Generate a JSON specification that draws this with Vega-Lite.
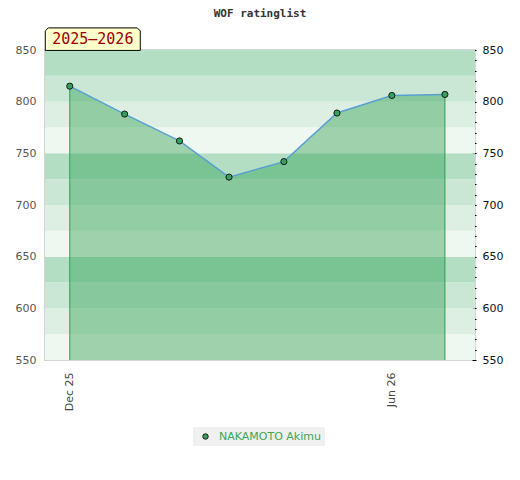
{
  "$schema": "https://vega.github.io/schema/vega-lite/v6.json",
  "autosize": "none",
  "width": 430,
  "height": 310,
  "padding": {"left": 45, "top": 50, "right": 45, "bottom": 120},
  "title": {
    "text": "WOF ratinglist",
    "font": "DejaVu Sans Mono",
    "fontSize": 11,
    "fontWeight": "bold",
    "color": "#333333",
    "anchor": "middle",
    "frame": "group",
    "offset": 7
  },
  "config": {
    "font": "DejaVu Sans",
    "view": {"stroke": "#d4d4d4", "strokeWidth": 2}
  },
  "datasets": {
    "ratings": [
      {"date": "2025-12-01", "rating": 815, "player": "NAKAMOTO Akimu"},
      {"date": "2026-01-01", "rating": 788, "player": "NAKAMOTO Akimu"},
      {"date": "2026-02-01", "rating": 762, "player": "NAKAMOTO Akimu"},
      {"date": "2026-03-01", "rating": 727, "player": "NAKAMOTO Akimu"},
      {"date": "2026-04-01", "rating": 742, "player": "NAKAMOTO Akimu"},
      {"date": "2026-05-01", "rating": 789, "player": "NAKAMOTO Akimu"},
      {"date": "2026-06-01", "rating": 806, "player": "NAKAMOTO Akimu"},
      {"date": "2026-07-01", "rating": 807, "player": "NAKAMOTO Akimu"}
    ],
    "bands": [
      {"lo": 550, "hi": 575, "shade": 0},
      {"lo": 575, "hi": 600, "shade": 1},
      {"lo": 600, "hi": 625, "shade": 2},
      {"lo": 625, "hi": 650, "shade": 3},
      {"lo": 650, "hi": 675, "shade": 0},
      {"lo": 675, "hi": 700, "shade": 1},
      {"lo": 700, "hi": 725, "shade": 2},
      {"lo": 725, "hi": 750, "shade": 3},
      {"lo": 750, "hi": 775, "shade": 0},
      {"lo": 775, "hi": 800, "shade": 1},
      {"lo": 800, "hi": 825, "shade": 2},
      {"lo": 825, "hi": 850, "shade": 3}
    ],
    "season": [{"label": "2025–2026"}]
  },
  "resolve": {"axis": {"y": "independent"}},
  "layer": [
    {
      "data": {"name": "bands"},
      "mark": {"type": "rect"},
      "encoding": {
        "y": {
          "field": "lo",
          "type": "quantitative",
          "scale": {"domain": [550, 850], "nice": false, "zero": false},
          "axis": {
            "orient": "left",
            "values": [550, 600, 650, 700, 750, 800, 850],
            "ticks": false,
            "domain": false,
            "grid": false,
            "title": null,
            "labelColor": "#555555",
            "labelFontSize": 11,
            "labelPadding": 9
          }
        },
        "y2": {"field": "hi"},
        "fill": {
          "field": "shade",
          "type": "ordinal",
          "scale": {"domain": [0, 1, 2, 3], "range": ["#eff7f1", "#dcefe2", "#c9e7d4", "#b3dec3"]},
          "legend": null
        }
      }
    },
    {
      "data": {"name": "ratings"},
      "mark": {"type": "area", "color": "#259b48", "opacity": 0.4},
      "encoding": {
        "x": {
          "field": "date",
          "type": "temporal",
          "scale": {
            "type": "utc",
            "domain": [
              {"year": 2025, "month": 11, "date": 17, "utc": true},
              {"year": 2026, "month": 7, "date": 18, "utc": true}
            ]
          },
          "axis": {
            "values": [
              {"year": 2025, "month": 12, "date": 1, "utc": true},
              {"year": 2026, "month": 6, "date": 1, "utc": true}
            ],
            "format": "%b %y",
            "labelAngle": -90,
            "ticks": false,
            "domain": false,
            "grid": false,
            "title": null,
            "labelColor": "#444444",
            "labelFontSize": 11,
            "labelPadding": 12
          }
        },
        "y": {
          "field": "rating",
          "type": "quantitative",
          "scale": {"domain": [550, 850], "nice": false, "zero": false},
          "axis": {
            "orient": "right",
            "values": [550, 560, 570, 580, 590, 600, 610, 620, 630, 640, 650, 660, 670, 680, 690, 700, 710, 720, 730, 740, 750, 760, 770, 780, 790, 800, 810, 820, 830, 840, 850],
            "labelExpr": "datum.value % 50 === 0 ? datum.label : ''",
            "tickSize": 4,
            "tickColor": "#000000",
            "offset": -3,
            "domain": false,
            "grid": false,
            "title": null,
            "labelColor": "#111111",
            "labelFontSize": 11,
            "labelPadding": 6
          }
        },
        "y2": {"datum": 550}
      }
    },
    {
      "data": {"name": "ratings"},
      "transform": [
        {"window": [{"op": "row_number", "as": "i"}]},
        {"joinaggregate": [{"op": "count", "as": "n"}]},
        {"filter": "datum.i === 1 || datum.i === datum.n"}
      ],
      "mark": {"type": "rule", "color": "#2f9e52", "strokeWidth": 1},
      "encoding": {
        "x": {"field": "date", "type": "temporal", "scale": {"type": "utc", "domain": [{"year": 2025, "month": 11, "date": 17, "utc": true}, {"year": 2026, "month": 7, "date": 18, "utc": true}]}},
        "y": {"field": "rating", "type": "quantitative", "scale": {"domain": [550, 850], "nice": false, "zero": false}, "axis": null},
        "y2": {"datum": 550}
      }
    },
    {
      "data": {"name": "ratings"},
      "mark": {"type": "line", "color": "#5a9fd4", "strokeWidth": 1.5},
      "encoding": {
        "x": {"field": "date", "type": "temporal", "scale": {"type": "utc", "domain": [{"year": 2025, "month": 11, "date": 17, "utc": true}, {"year": 2026, "month": 7, "date": 18, "utc": true}]}},
        "y": {"field": "rating", "type": "quantitative", "scale": {"domain": [550, 850], "nice": false, "zero": false}, "axis": null}
      }
    },
    {
      "data": {"name": "ratings"},
      "mark": {"type": "point", "shape": "circle", "filled": true, "opacity": 1, "size": 38, "stroke": "#1a1a1a", "strokeWidth": 1},
      "encoding": {
        "x": {"field": "date", "type": "temporal", "scale": {"type": "utc", "domain": [{"year": 2025, "month": 11, "date": 17, "utc": true}, {"year": 2026, "month": 7, "date": 18, "utc": true}]}},
        "y": {"field": "rating", "type": "quantitative", "scale": {"domain": [550, 850], "nice": false, "zero": false}, "axis": null},
        "color": {
          "field": "player",
          "type": "nominal",
          "scale": {"range": ["#34a05a"]},
          "legend": {
            "orient": "none",
            "legendX": 148,
            "legendY": 377,
            "title": null,
            "fillColor": "#f0f0f0",
            "padding": 4,
            "symbolType": "circle",
            "symbolSize": 30,
            "symbolStrokeColor": "#1a1a1a",
            "symbolStrokeWidth": 1,
            "symbolOffset": 3,
            "labelOffset": 8,
            "labelColor": "#3aa757",
            "labelFontSize": 11,
            "labelFont": "DejaVu Sans"
          }
        }
      }
    },
    {
      "data": {"name": "season"},
      "mark": {
        "type": "point",
        "shape": "M-1,0.237L-1,-0.174L-0.937,-0.237L0.937,-0.237L1,-0.174L1,0.237Z",
        "filled": true,
        "fill": "#ffffcc",
        "stroke": "#000000",
        "strokeWidth": 1,
        "opacity": 1,
        "size": 9025
      },
      "encoding": {
        "x": {"datum": {"year": 2025, "month": 12, "date": 14, "utc": true}, "type": "temporal", "scale": {"type": "utc", "domain": [{"year": 2025, "month": 11, "date": 17, "utc": true}, {"year": 2026, "month": 7, "date": 18, "utc": true}]}},
        "y": {"datum": 860.5, "type": "quantitative", "scale": {"domain": [550, 850], "nice": false, "zero": false}, "axis": null}
      }
    },
    {
      "data": {"name": "season"},
      "mark": {"type": "text", "font": "DejaVu Sans Mono", "fontSize": 15, "color": "#990000", "align": "center", "baseline": "middle"},
      "encoding": {
        "x": {"datum": {"year": 2025, "month": 12, "date": 14, "utc": true}, "type": "temporal", "scale": {"type": "utc", "domain": [{"year": 2025, "month": 11, "date": 17, "utc": true}, {"year": 2026, "month": 7, "date": 18, "utc": true}]}},
        "y": {"datum": 860.5, "type": "quantitative", "scale": {"domain": [550, 850], "nice": false, "zero": false}, "axis": null},
        "text": {"field": "label"}
      }
    }
  ]
}
